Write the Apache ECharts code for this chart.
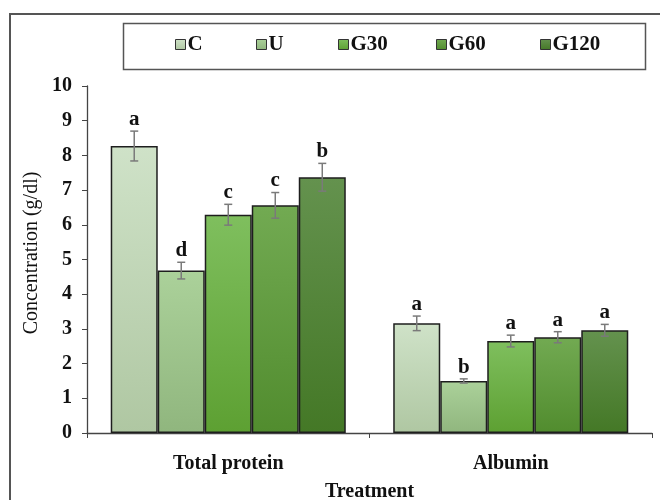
<!DOCTYPE html>
<html>
<head>
<meta charset="utf-8">
<script src="https://cdn.jsdelivr.net/npm/echarts@6/dist/echarts.min.js"></script>
<style>
  html, body { margin: 0; padding: 0; background: #fff; }
  #chart { width: 660px; height: 500px; }
</style>
</head>
<body>
<div id="chart"></div>
<script>
// Serum proteins by treatment group
const categories = ['Total protein', 'Albumin'];
const seriesNames = ['C', 'U', 'G30', 'G60', 'G120'];
const valC = [8.27, 3.16];
const valU = [4.68, 1.50];
const valG30 = [6.29, 2.65];
const valG60 = [6.56, 2.76];
const valG120 = [7.37, 2.96];
const errC = [0.43, 0.21];
const errU = [0.24, 0.06];
const errG30 = [0.30, 0.17];
const errG60 = [0.37, 0.16];
const errG120 = [0.40, 0.17];
const letC = ['a', 'a'];
const letU = ['d', 'b'];
const letG30 = ['c', 'a'];
const letG60 = ['c', 'a'];
const letG120 = ['b', 'a'];
const yTicks = [0, 1, 2, 3, 4, 5, 6, 7, 8, 9, 10];

const values = [valC, valU, valG30, valG60, valG120];
const errors = [errC, errU, errG30, errG60, errG120];
const letters = [letC, letU, letG30, letG60, letG120];

// top / bottom shades of each bar's fill
const shades = [
  ['#cfe2c8', '#afc7a2'],
  ['#abd19a', '#90b67e'],
  ['#7fbf5e', '#5da032'],
  ['#72aa52', '#518c2e'],
  ['#64924e', '#447826']
];

const FONT = '"Liberation Serif", "Times New Roman", serif';
const CAT_GAP = 0.168;

const chart = echarts.init(document.getElementById('chart'), null, { renderer: 'canvas' });

const barSeries = seriesNames.map((name, i) => ({
  name: name,
  type: 'bar',
  data: values[i],
  barGap: '0%',
  barCategoryGap: (CAT_GAP * 100) + '%',
  itemStyle: {
    color: new echarts.graphic.LinearGradient(0, 0, 0, 1, [
      { offset: 0, color: shades[i][0] },
      { offset: 1, color: shades[i][1] }
    ]),
    borderColor: '#1e1e1e',
    borderWidth: 1.5
  },
  z: 2
}));

// error bars with significance letters, aligned to each grouped bar
const errSeries = seriesNames.map((name, i) => ({
  name: name,
  type: 'custom',
  data: categories.map((c, j) => [j, values[i][j], errors[i][j], letters[i][j]]),
  encode: { x: 0, y: 1 },
  z: 5,
  silent: true,
  renderItem: function (params, api) {
    const j = api.value(0);
    const v = api.value(1);
    const e = api.value(2);
    const bandW = api.size([1, 0])[0];
    const barW = bandW * (1 - CAT_GAP) / seriesNames.length;
    const center = api.coord([j, 0])[0];
    const x = center + (i - (seriesNames.length - 1) / 2) * barW;
    const top = api.coord([j, v + e])[1];
    const bot = api.coord([j, v - e])[1];
    const cap = 4;
    const st = { stroke: '#7a7a7a', lineWidth: 1.5 };
    return {
      type: 'group',
      children: [
        { type: 'line', shape: { x1: x, y1: top, x2: x, y2: bot }, style: st },
        { type: 'line', shape: { x1: x - cap, y1: top, x2: x + cap, y2: top }, style: st },
        { type: 'line', shape: { x1: x - cap, y1: bot, x2: x + cap, y2: bot }, style: st },
        {
          type: 'text',
          style: {
            x: x, y: top - 1,
            text: api.value(3),
            font: 'bold 21px ' + FONT,
            fill: '#111',
            align: 'center',
            verticalAlign: 'bottom'
          }
        }
      ]
    };
  }
}));

// one legend block per item, spread across the framed box
const legendLeft = [175, 256, 338, 436, 540];
const legends = seriesNames.map((name, i) => ({
  data: [name],
  left: legendLeft[i],
  top: 34,
  itemWidth: 10,
  itemHeight: 10,
  itemGap: 0,
  padding: 0,
  icon: 'rect',
  textStyle: { fontFamily: FONT, fontWeight: 'bold', fontSize: 21, color: '#111', padding: [3, 0, 0, -3] },
  itemStyle: { borderColor: '#333', borderWidth: 1 }
}));

const option = {
  animation: false,
  backgroundColor: '#fff',
  legend: legends,
  grid: { left: 87, right: 8, top: 86, bottom: 67, containLabel: false, outerBoundsMode: 'none' },
  xAxis: {
    type: 'category',
    data: categories,
    name: 'Treatment',
    nameLocation: 'middle',
    nameGap: 49,
    nameTextStyle: { fontFamily: FONT, fontWeight: 'bold', fontSize: 20, color: '#111' },
    axisLine: { lineStyle: { color: '#444', width: 1.3 } },
    axisTick: { show: true, inside: false, length: 5, alignWithLabel: false, lineStyle: { color: '#444' } },
    axisLabel: { fontFamily: FONT, fontWeight: 'bold', fontSize: 20, color: '#111', margin: 21 },
    splitLine: { show: false }
  },
  yAxis: {
    type: 'value',
    min: yTicks[0],
    max: yTicks[yTicks.length - 1],
    interval: 1,
    axisLine: { show: true, lineStyle: { color: '#444', width: 1.3 } },
    axisTick: { show: true, inside: false, length: 5, lineStyle: { color: '#444' } },
    axisLabel: { fontFamily: FONT, fontWeight: 'bold', fontSize: 20, color: '#111', margin: 15 },
    splitLine: { show: false }
  },
  graphic: [
    // outer frame
    { type: 'rect', shape: { x: 10, y: 14, width: 680, height: 520 }, style: { fill: 'none', stroke: '#555', lineWidth: 2 }, silent: true, z: 0 },
    // legend frame
    { type: 'rect', shape: { x: 123.5, y: 23.5, width: 522, height: 46 }, style: { fill: 'none', stroke: '#555', lineWidth: 1.5 }, silent: true, z: 0 },
    // y-axis title
    {
      type: 'text',
      x: 32, y: 253,
      rotation: Math.PI / 2,
      style: {
        text: 'Concentration (g/dl)',
        font: '20px ' + FONT,
        fill: '#111',
        align: 'center',
        verticalAlign: 'middle'
      },
      silent: true
    }
  ],
  series: barSeries.concat(errSeries)
};

chart.setOption(option);
</script>
</body>
</html>
